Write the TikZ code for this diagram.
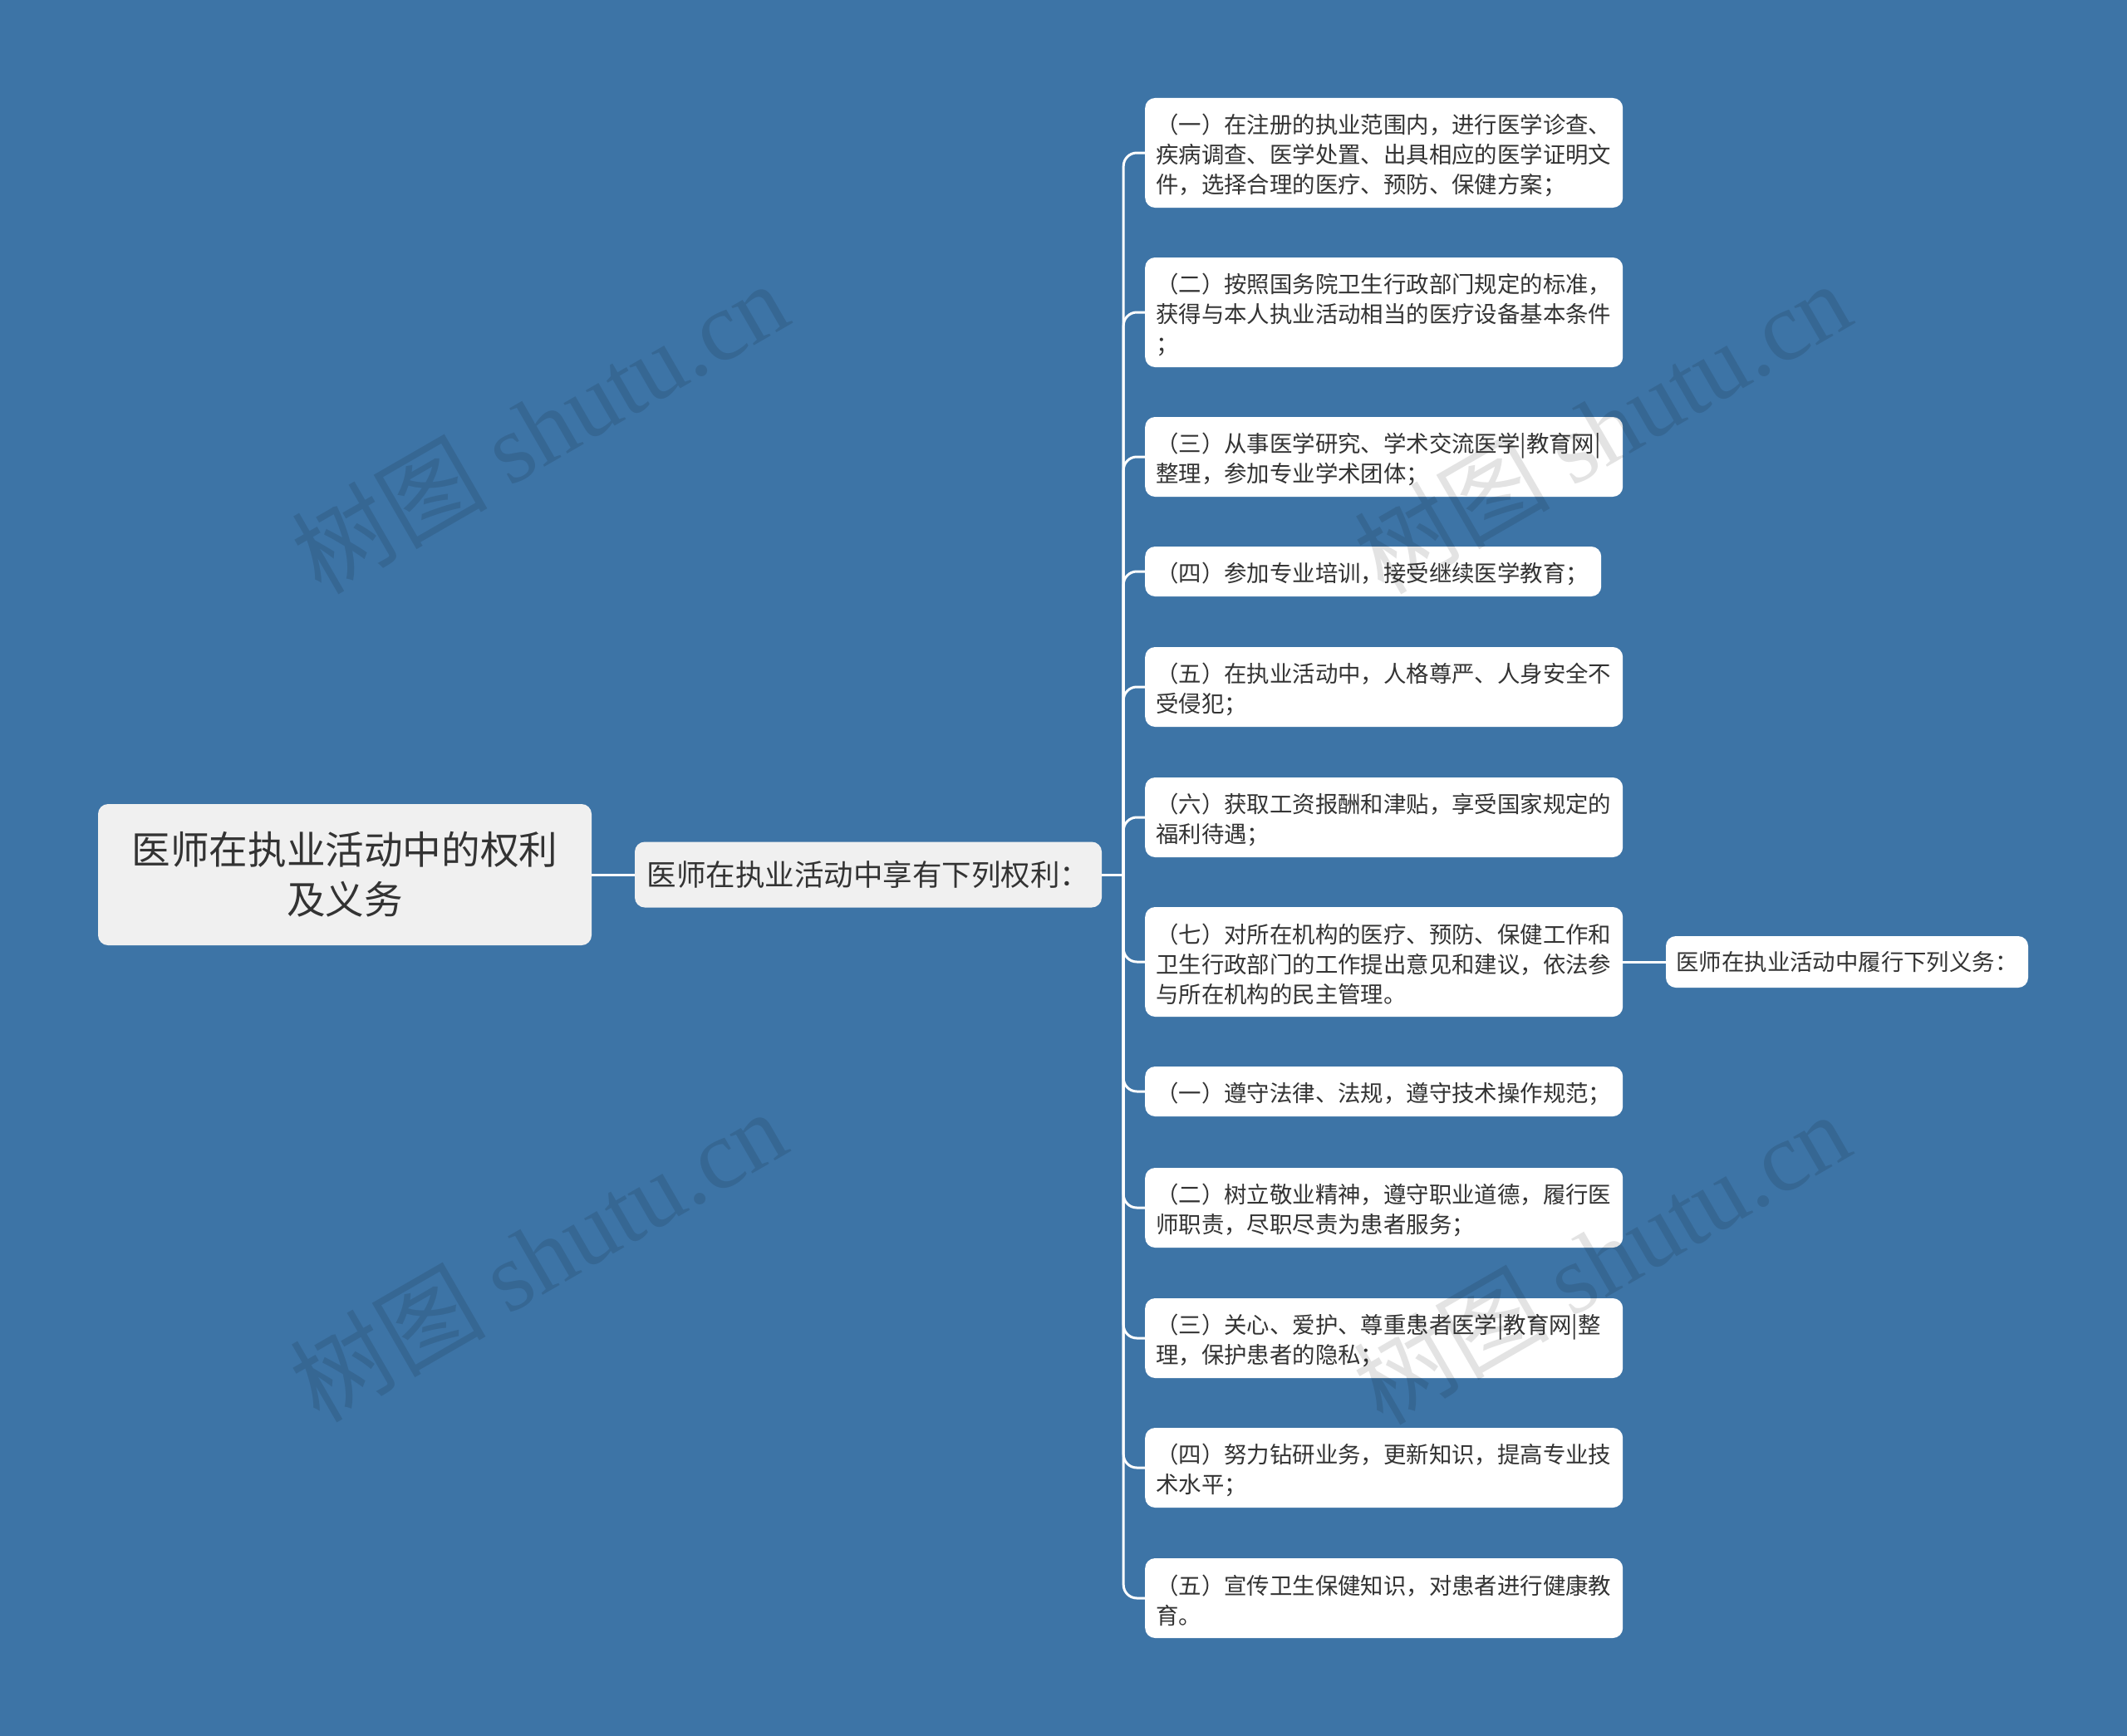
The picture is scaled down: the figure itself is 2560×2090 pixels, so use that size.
\documentclass[tikz,border=0pt]{standalone}
\usepackage{fontspec}
\setmainfont{Noto Sans CJK SC}
\newfontfamily\wmlatin{Liberation Serif}
\usepackage{tikz}
\usetikzlibrary{positioning}
\definecolor{bgblue}{RGB}{61,116,166}
\definecolor{boxgray}{RGB}{240,240,240}
\definecolor{txt}{RGB}{51,51,51}

\begin{document}
\begin{tikzpicture}[x=1pt,y=-1pt,
    box/.style={rounded corners=12pt, fill=white, text=txt, inner sep=0pt},
    topic/.style={box, fill=boxgray, align=center},
    leaf/.style={box, anchor=west, align=left, text width=549pt, inner xsep=13pt,
      font=\fontsize{27.4}{36}\selectfont, minimum height=24pt+#1*36pt,
      execute at begin node={\rule{0pt}{29pt}}},
    leaf/.default=1,
    link/.style={draw=white, line width=3pt, rounded corners=16pt},
    wmark/.style={rotate=30, text=black, opacity=0.11, font=\fontsize{118}{118}\selectfont}]
			\fill[bgblue] (0,0) rectangle (2560,2090);
			\useasboundingbox (0,0) rectangle (2560,2090);
			
			\node[topic, minimum width=594pt, minimum height=170pt, font=\fontsize{46.6}{60}\selectfont] (root) at (415,1053) {医师在执业活动中的权利\\及义务};
			\node[topic, minimum width=562pt, minimum height=79pt, font=\fontsize{35.5}{40}\selectfont] (rights) at (1045,1053) {医师在执业活动中享有下列权利：};
			\coordinate[right=26pt of rights.east] (hub);
			
			\node[leaf=3] (r1) at (1378,184) {（一）在注册的执业范围内，进行医学诊查、\\疾病调查、医学处置、出具相应的医学证明文\\件，选择合理的医疗、预防、保健方案；};
			\node[leaf=3] (r2) at (1378,376) {（二）按照国务院卫生行政部门规定的标准，\\获得与本人执业活动相当的医疗设备基本条件\\；};
			\node[leaf=2] (r3) at (1378,550) {（三）从事医学研究、学术交流医学|教育网|\\整理，参加专业学术团体；};
			\node[leaf, text width=523pt] (r4) at (1378,688) {（四）参加专业培训，接受继续医学教育；};
			\node[leaf=2] (r5) at (1378,827) {（五）在执业活动中，人格尊严、人身安全不\\受侵犯；};
			\node[leaf=2] (r6) at (1378,984) {（六）获取工资报酬和津贴，享受国家规定的\\福利待遇；};
			\node[leaf=3] (r7) at (1378,1158) {（七）对所在机构的医疗、预防、保健工作和\\卫生行政部门的工作提出意见和建议，依法参\\与所在机构的民主管理。};
			\node[leaf] (r8) at (1378,1314) {（一）遵守法律、法规，遵守技术操作规范；};
			\node[leaf=2] (r9) at (1378,1454) {（二）树立敬业精神，遵守职业道德，履行医\\师职责，尽职尽责为患者服务；};
			\node[leaf=2] (r10) at (1378,1611) {（三）关心、爱护、尊重患者医学|教育网|整\\理，保护患者的隐私；};
			\node[leaf=2] (r11) at (1378,1767) {（四）努力钻研业务，更新知识，提高专业技\\术水平；};
			\node[leaf=2] (r12) at (1378,1924) {（五）宣传卫生保健知识，对患者进行健康教\\育。};
			
			\node[box, minimum width=436pt, minimum height=62pt, font=\fontsize{27.4}{36}\selectfont] (duties) at (2223,1158) {医师在执业活动中履行下列义务：};
			
			\draw[link] (root) -- (rights);
			\draw[link] (rights) -- (hub);
			\foreach \i in {1,...,12}
				\draw[link] (hub) |- (r\i.west);
			\draw[link] (r7) -- (duties);
			
			% watermarks
			\node[wmark] (wm1) at (649,514) {树图 {\wmlatin shutu.cn}};
			\node[wmark] (wm2) at (1928,514) {树图 {\wmlatin shutu.cn}};
			\node[wmark] (wm3) at (647,1511) {树图 {\wmlatin shutu.cn}};
			\node[wmark] (wm4) at (1927,1514) {树图 {\wmlatin shutu.cn}};
		\end{tikzpicture}
\end{document}
